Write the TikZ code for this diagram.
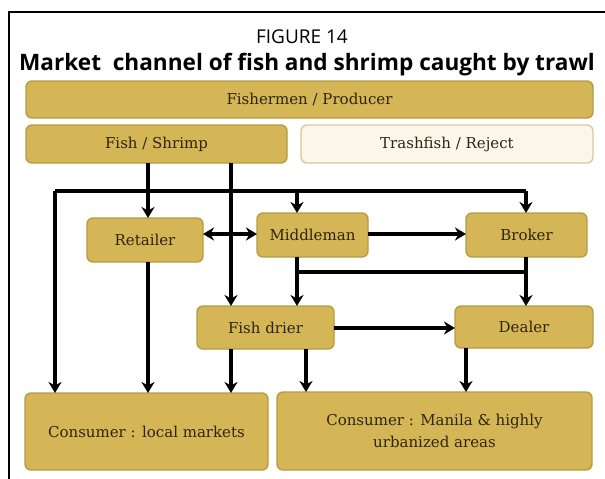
\documentclass[tikz,border=0pt]{standalone}
\usepackage{fontspec}
\setmainfont{DejaVu Serif}
\newfontfamily\capfont{Open Sans}
\usetikzlibrary{arrows.meta}
\definecolor{gold}{HTML}{D4B656}
\definecolor{goldedge}{HTML}{B89B42}
\definecolor{cream}{HTML}{FBF6EA}
\definecolor{creamedge}{HTML}{D9C9A3}
\definecolor{ink}{HTML}{2E250E}
\begin{document}
\begin{tikzpicture}[x=1pt,y=-1pt,
  box/.style={draw=goldedge, fill=gold, line width=1.4pt, rounded corners=6pt,
    inner sep=0pt, outer sep=0pt, text=ink, align=center,
    font=\fontsize{15}{22}\selectfont},
  palebox/.style={box, draw=creamedge, fill=cream},
  flow/.style={line width=3.2pt, black},
  arr/.style={flow, -{Stealth[length=11pt,width=13pt,inset=3.5pt]}},
  biarr/.style={flow, {Stealth[length=11pt,width=13pt,inset=3.5pt]}-{Stealth[length=11pt,width=13pt,inset=3.5pt]}},
]
\useasboundingbox (0,0) rectangle (605,479);

% frame
\draw[line width=1.2pt] (9,479) -- (9,12) -- (605,12);

% headings
\node[font=\capfont\fontsize{19}{22}\selectfont] (fig) at (302,37) {FIGURE 14};
\node[font=\capfont\bfseries\fontsize{22.6}{26}\selectfont] (ttl) at (307,65)
  {Market~ channel of fish and shrimp caught by trawl};

% boxes
\node[box, minimum width=567pt, minimum height=37pt] (prod) at (309.5,99.5) {Fishermen / Producer};
\node[box, minimum width=261pt, minimum height=38pt] (fs) at (156.5,144) {Fish / Shrimp};
\node[palebox, minimum width=292pt, minimum height=38pt] (trash) at (447,144) {Trashfish / Reject};
\node[box, minimum width=116pt, minimum height=44pt] (ret) at (145,240) {Retailer};
\node[box, minimum width=111pt, minimum height=44pt] (mid) at (312.5,235) {Middleman};
\node[box, minimum width=121pt, minimum height=44pt] (bro) at (526.5,235) {Broker};
\node[box, minimum width=137pt, minimum height=43pt] (dri) at (265.5,327.5) {Fish drier};
\node[box, minimum width=138pt, minimum height=42pt] (dea) at (524,327) {Dealer};
\node[box, minimum width=243pt, minimum height=77pt] (loc) at (146.5,431.5) {Consumer : local markets};
\node[box, minimum width=315pt, minimum height=78pt] (man) at (434.5,431) {Consumer : Manila \& highly\\urbanized areas};

% columns and rows of the connectors
\coordinate (cL) at (55,0);
\coordinate (cR) at (148,0);
\coordinate (cF) at (231,0);
\coordinate (cM) at (297,0);
\coordinate (cS) at (306,0);
\coordinate (cD) at (466,0);
\coordinate (cB) at (526,0);
\coordinate (rT) at (0,191);
\coordinate (rH) at (0,234);
\coordinate (rJ) at (0,272);
\coordinate (rK) at (0,328);

% trunk line across the top
\draw[flow] (cL |- rT) -- (cB |- rT);
\draw[arr] (cL |- rT) -- (loc.north -| cL);
\draw[arr] (cM |- rT) -- (mid.north -| cM);
\draw[arr] (cB |- rT) -- (bro.north -| cB);

% from fish / shrimp
\draw[arr] (fs.south -| cR) -- (ret.north -| cR);
\draw[arr] (fs.south -| cF) -- (dri.north -| cF);

% middle row
\draw[biarr] (ret.east |- rH) -- (mid.west |- rH);
\draw[arr] (mid.east |- rH) -- (bro.west |- rH);
\draw[arr] (ret.south -| cR) -- (loc.north -| cR);
\draw[arr] (mid.south -| cM) -- (dri.north -| cM);
\draw[flow] (cM |- rJ) -- (cB |- rJ);
\draw[arr] (bro.south -| cB) -- (dea.north -| cB);

% lower row
\draw[arr] (dri.east |- rK) -- (dea.west |- rK);
\draw[arr] (dri.south -| cF) -- (loc.north -| cF);
\draw[arr] (dri.south -| cS) -- (man.north -| cS);
\draw[arr] (dea.south -| cD) -- (man.north -| cD);
\end{tikzpicture}
\end{document}
